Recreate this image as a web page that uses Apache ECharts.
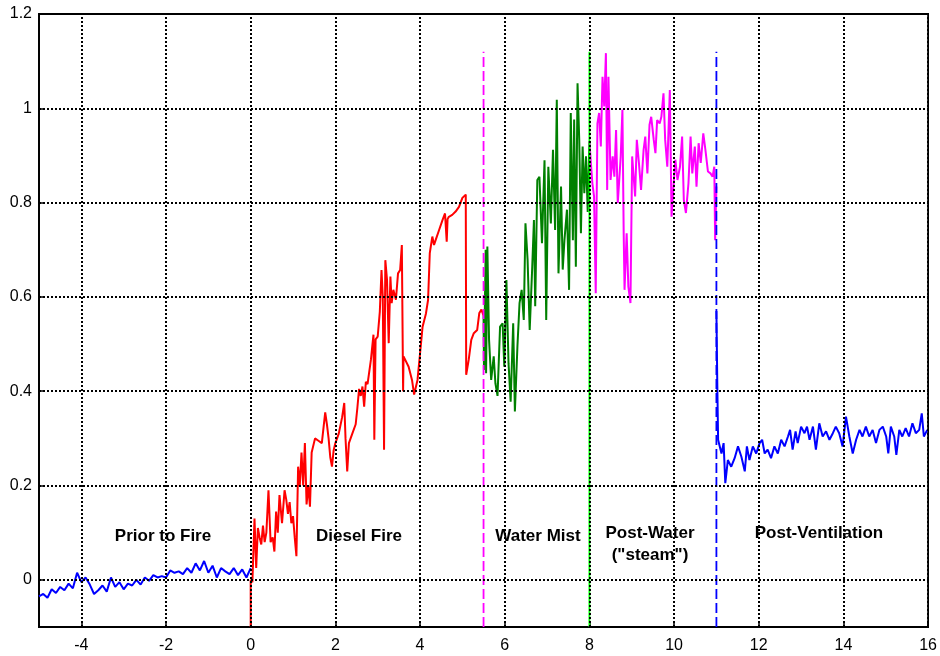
<!DOCTYPE html>
<html>
<head>
<meta charset="utf-8">
<script src="https://cdn.jsdelivr.net/npm/echarts@6/dist/echarts.min.js"></script>
<style>html,body{margin:0;padding:0;background:#fff}#c{width:940px;height:656px}</style>
</head>
<body>
<div id="c"></div>
<script>
// ---- data ([x, y] pairs) ----
const xTicks = [-4, -2, 0, 2, 4, 6, 8, 10, 12, 14, 16];
const yTicks = [0, 0.2, 0.4, 0.6, 0.8, 1, 1.2];

const priorToFire = [
  [-5.0,-0.035],[-4.9,-0.03],[-4.8,-0.038],[-4.7,-0.02],[-4.6,-0.028],[-4.5,-0.015],[-4.4,-0.022],
  [-4.3,-0.008],[-4.2,-0.018],[-4.1,0.015],[-4.0,-0.005],[-3.9,0.005],[-3.8,-0.01],[-3.7,-0.03],
  [-3.6,-0.022],[-3.5,-0.012],[-3.4,-0.025],[-3.3,0.005],[-3.2,-0.015],[-3.1,-0.005],[-3.0,-0.02],
  [-2.9,-0.008],[-2.8,-0.012],[-2.7,0.0],[-2.6,-0.01],[-2.5,0.005],[-2.4,-0.002],[-2.3,0.01],
  [-2.2,0.005],[-2.1,0.008],[-2.0,0.005],[-1.9,0.02],[-1.8,0.015],[-1.7,0.018],[-1.6,0.012],
  [-1.5,0.025],[-1.4,0.015],[-1.3,0.035],[-1.2,0.02],[-1.1,0.04],[-1.0,0.015],[-0.9,0.03],
  [-0.8,0.005],[-0.7,0.025],[-0.6,0.018],[-0.5,0.012],[-0.4,0.025],[-0.3,0.01],[-0.2,0.022],
  [-0.1,0.005],[0.0,0.025]
];

const dieselFire = [
  [0.0,-0.1],[0.0,0.0],[0.04,-0.005],[0.09,0.13],[0.13,0.025],[0.17,0.11],[0.21,0.09],[0.25,0.075],
  [0.29,0.115],[0.33,0.08],[0.37,0.1],[0.42,0.19],[0.47,0.08],[0.52,0.09],[0.56,0.06],[0.6,0.145],
  [0.64,0.1],[0.68,0.18],[0.74,0.12],[0.8,0.19],[0.84,0.17],[0.88,0.14],[0.92,0.165],[0.96,0.12],
  [1.0,0.135],[1.04,0.09],[1.08,0.05],[1.12,0.24],[1.16,0.2],[1.2,0.27],[1.24,0.2],[1.28,0.29],
  [1.32,0.16],[1.36,0.2],[1.4,0.155],[1.44,0.27],[1.52,0.3],[1.6,0.295],[1.68,0.29],[1.76,0.355],
  [1.8,0.33],[1.84,0.3],[1.88,0.26],[1.92,0.24],[1.96,0.275],[2.0,0.29],[2.08,0.31],[2.16,0.345],
  [2.21,0.375],[2.24,0.3],[2.28,0.23],[2.32,0.29],[2.4,0.31],[2.48,0.33],[2.52,0.365],[2.56,0.405],
  [2.6,0.39],[2.64,0.41],[2.68,0.367],[2.72,0.42],[2.76,0.415],[2.84,0.467],[2.9,0.52],[2.92,0.297],
  [2.95,0.51],[3.0,0.516],[3.05,0.569],[3.09,0.657],[3.12,0.6],[3.15,0.276],[3.18,0.678],[3.22,0.636],
  [3.26,0.502],[3.3,0.643],[3.33,0.587],[3.37,0.615],[3.43,0.594],[3.48,0.65],[3.53,0.657],[3.57,0.71],
  [3.6,0.4],[3.61,0.474],[3.65,0.47],[3.73,0.452],[3.81,0.424],[3.86,0.393],[3.94,0.424],[4.0,0.48],
  [4.06,0.537],[4.14,0.565],[4.19,0.594],[4.23,0.693],[4.29,0.728],[4.33,0.71],[4.37,0.721],[4.45,0.742],
  [4.53,0.763],[4.59,0.777],[4.63,0.717],[4.65,0.765],[4.68,0.77],[4.76,0.774],[4.84,0.781],[4.92,0.791],
  [5.0,0.81],[5.08,0.817],[5.09,0.435],[5.15,0.467],[5.21,0.509],[5.27,0.523],[5.35,0.53],[5.4,0.566],
  [5.45,0.573],[5.5,0.56]
];

const waterMist = [
  [5.5,0.56],[5.51,0.445],[5.55,0.7],[5.56,0.438],[5.59,0.707],[5.63,0.509],[5.68,0.424],[5.74,0.474],
  [5.78,0.417],[5.83,0.39],[5.89,0.537],[5.95,0.544],[5.99,0.452],[6.04,0.636],[6.09,0.459],[6.14,0.378],
  [6.2,0.544],[6.24,0.357],[6.3,0.495],[6.35,0.587],[6.4,0.615],[6.45,0.551],[6.49,0.756],[6.54,0.679],
  [6.59,0.53],[6.65,0.664],[6.69,0.763],[6.72,0.58],[6.77,0.848],[6.82,0.855],[6.88,0.714],[6.94,0.89],
  [6.98,0.551],[7.03,0.876],[7.09,0.756],[7.14,0.912],[7.19,0.742],[7.23,1.018],[7.27,0.65],[7.33,0.834],
  [7.37,0.658],[7.41,0.72],[7.47,0.785],[7.52,0.615],[7.56,0.99],[7.61,0.72],[7.64,0.976],[7.68,0.664],
  [7.72,1.053],[7.76,0.933],[7.8,0.735],[7.84,0.919],[7.88,0.82],[7.92,0.898],[7.96,0.78],[8.0,0.93]
];

const postWater = [
  [8.0,0.93],[8.03,0.891],[8.07,0.841],[8.11,0.813],[8.15,0.608],[8.19,0.968],[8.23,0.99],[8.27,0.919],
  [8.31,1.067],[8.35,1.004],[8.39,1.117],[8.42,0.827],[8.45,1.067],[8.5,0.848],[8.55,0.898],[8.59,0.855],
  [8.63,0.954],[8.67,0.799],[8.74,0.898],[8.78,0.997],[8.81,0.735],[8.83,0.615],[8.88,0.735],[8.92,0.622],
  [8.97,0.587],[9.01,0.898],[9.08,0.813],[9.12,0.933],[9.17,0.884],[9.22,0.827],[9.28,0.912],[9.32,0.94],
  [9.37,0.862],[9.42,0.965],[9.46,0.982],[9.52,0.933],[9.56,0.905],[9.6,0.975],[9.66,0.968],[9.7,0.982],
  [9.75,1.032],[9.79,0.933],[9.84,0.876],[9.9,1.039],[9.94,0.77],[9.98,0.827],[10.03,0.891],[10.08,0.848],
  [10.14,0.876],[10.19,0.94],[10.23,0.806],[10.28,0.778],[10.34,0.841],[10.39,0.94],[10.43,0.862],
  [10.49,0.919],[10.53,0.834],[10.58,0.926],[10.63,0.884],[10.69,0.947],[10.74,0.912],[10.8,0.866],
  [10.86,0.862],[10.91,0.855],[10.95,0.876],[10.97,0.72],[11.0,0.834]
];

const postVentilation = [
  [11.0,0.57],[11.02,0.42],[11.04,0.297],[11.12,0.268],[11.17,0.29],[11.21,0.205],[11.27,0.254],
  [11.35,0.24],[11.43,0.258],[11.51,0.283],[11.59,0.261],[11.67,0.23],[11.72,0.283],[11.78,0.254],
  [11.86,0.283],[11.94,0.268],[12.02,0.29],[12.08,0.297],[12.14,0.268],[12.21,0.276],[12.29,0.258],
  [12.37,0.283],[12.45,0.268],[12.53,0.297],[12.61,0.283],[12.69,0.304],[12.74,0.318],[12.8,0.276],
  [12.87,0.315],[12.92,0.29],[13.0,0.325],[13.08,0.311],[13.14,0.325],[13.2,0.297],[13.28,0.325],
  [13.35,0.276],[13.43,0.332],[13.51,0.304],[13.59,0.315],[13.67,0.297],[13.75,0.311],[13.82,0.325],
  [13.9,0.311],[13.98,0.283],[14.06,0.346],[14.14,0.304],[14.22,0.268],[14.3,0.297],[14.38,0.318],
  [14.45,0.304],[14.53,0.325],[14.61,0.304],[14.69,0.318],[14.77,0.29],[14.85,0.318],[14.93,0.325],
  [15.01,0.304],[15.06,0.268],[15.12,0.325],[15.2,0.304],[15.25,0.265],[15.32,0.318],[15.39,0.304],
  [15.47,0.322],[15.55,0.304],[15.63,0.332],[15.71,0.311],[15.79,0.318],[15.85,0.353],[15.9,0.304],
  [15.98,0.318]
];

// phase boundary markers (x position, bottom, top)
const mistStart = [[5.5, -0.1], [5.5, 1.12]];
const steamStart = [[8.0, -0.1], [8.0, 1.12]];
const ventStart = [[11.0, -0.1], [11.0, 1.12]];

const phaseLabels = ['Prior to Fire', 'Diesel Fire', 'Water Mist', 'Post-Water', '("steam")', 'Post-Ventilation'];

// ---- chart ----
const FONT = '"Liberation Sans", Arial, sans-serif';
const chart = echarts.init(document.getElementById('c'), null, {renderer: 'canvas'});

function dataLine(data, color, z) {
  return {type: 'line', data: data, showSymbol: false, symbol: 'none', z: z || 3,
    lineStyle: {color: color, width: 2}, itemStyle: {color: color}, animation: false};
}
function vLine(data, color, dash, width) {
  return {type: 'line', data: data, showSymbol: false, symbol: 'none', z: 4,
    lineStyle: {color: color, width: width, type: dash}, animation: false};
}

const gridLines = [].concat(
  xTicks.map(v => ({xAxis: v})),
  yTicks.map(v => ({yAxis: v}))
);

const labelPos = [[163, 536], [359, 536], [538, 536], [650, 533], [650, 555], [819, 533]];

chart.setOption({
  animation: false,
  backgroundColor: '#fff',
  grid: {left: 39, right: 10, top: 14, bottom: 29, show: true, borderColor: '#000', borderWidth: 1.8, backgroundColor: 'transparent'},
  xAxis: {
    type: 'value', min: -5, max: 16,
    axisLine: {show: true, onZero: false, lineStyle: {color: '#000', width: 1.8}},
    axisTick: {show: true, inside: true, length: 4, customValues: xTicks, lineStyle: {color: '#000', width: 1.5}},
    axisLabel: {customValues: xTicks, color: '#000', fontSize: 16, fontFamily: FONT, margin: 11},
    splitLine: {show: false}
  },
  yAxis: {
    type: 'value', min: -0.1, max: 1.2,
    axisLine: {show: true, onZero: false, lineStyle: {color: '#000', width: 1.8}},
    axisTick: {show: true, inside: true, length: 4, customValues: yTicks, lineStyle: {color: '#000', width: 1.5}},
    axisLabel: {customValues: yTicks, color: '#000', fontSize: 16, fontFamily: FONT, margin: 7,
      formatter: v => String(Math.round(v * 10) / 10)},
    splitLine: {show: false}
  },
  series: [
    {type: 'line', data: [[-5, -0.1]], showSymbol: false, symbol: 'none', z: 1,
      lineStyle: {width: 0, opacity: 0},
      markLine: {silent: true, symbol: 'none', label: {show: false}, animation: false,
        lineStyle: {color: '#000', type: [2, 2], width: 2}, emphasis: {disabled: true},
        data: gridLines}},
    dataLine(priorToFire, '#0000ff'),
    dataLine(dieselFire, '#ff0000'),
    dataLine(waterMist, '#008000'),
    dataLine(postWater, '#ff00ff'),
    dataLine(postVentilation, '#0000ff'),
    vLine(mistStart, '#ff00ff', [10, 4], 1.8),
    vLine(steamStart, '#00ff00', 'solid', 1.8),
    vLine(ventStart, '#0000ff', [10, 4], 1.8)
  ],
  graphic: phaseLabels.map((t, i) => ({
    type: 'text', x: labelPos[i][0], y: labelPos[i][1], z: 10,
    style: {text: t, textAlign: 'center', textVerticalAlign: 'middle',
      font: 'bold 17px ' + FONT, fill: '#000'}
  }))
});
</script>
</body>
</html>
